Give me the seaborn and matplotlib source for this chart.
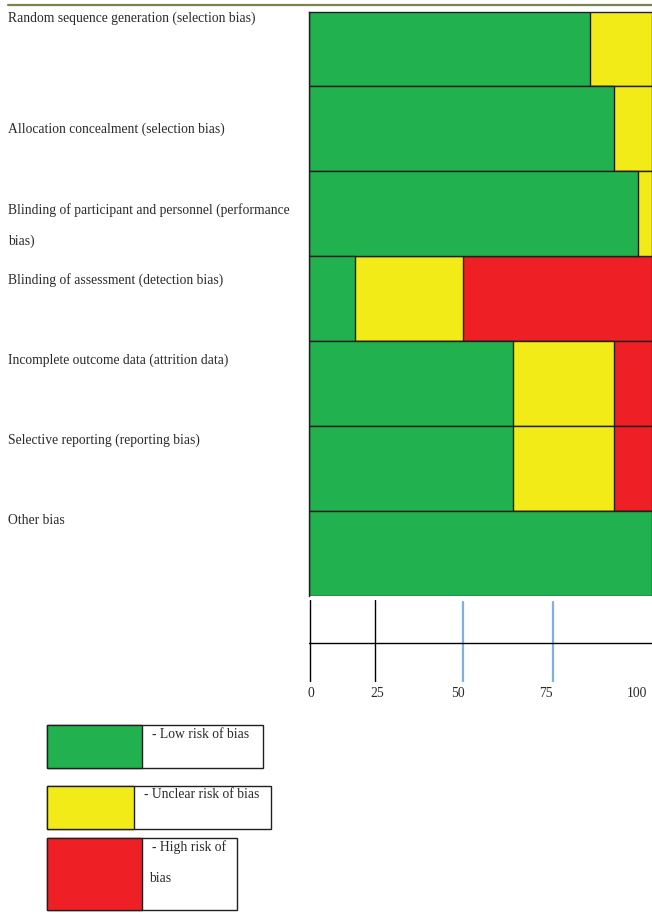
import matplotlib
matplotlib.use("Agg")
import matplotlib.pyplot as plt
from matplotlib.patches import Rectangle
import seaborn as sns
import pandas as pd

sns.set_theme(style="white")
plt.rcParams["font.family"] = ["Liberation Serif", "DejaVu Serif"]

# risk of bias domains and % of studies in each judgement
domains = [
    "Random sequence generation (selection bias)",
    "Allocation concealment (selection bias)",
    "Blinding of participant and personnel (performance bias)",
    "Blinding of assessment (detection bias)",
    "Incomplete outcome data (attrition data)",
    "Selective reporting (reporting bias)",
    "Other bias",
]
low_risk = [82, 89, 96, 13.5, 59.5, 59.5, 100]
unclear_risk = [18, 11, 4, 31.5, 29.5, 29.5, 0]
high_risk = [0, 0, 0, 55, 11, 11, 0]

# row labels as printed (wrapped)
row_labels = [
    ["Random sequence generation (selection bias)"],
    ["Allocation concealment (selection bias)"],
    ["Blinding of participant and personnel (performance", "bias)"],
    ["Blinding of assessment (detection bias)"],
    ["Incomplete outcome data (attrition data)"],
    ["Selective reporting (reporting bias)"],
    ["Other bias"],
]

# scale strip under the bars
scale_labels = ["0", "25", "50", "75", "100"]
scale_label_pos = [0.6, 19.8, 43.4, 69.0, 95.6]
black_dividers = [0.3, 19.2]
blue_dividers = [44.9, 71.1]

legend_labels = [["- Low risk of bias"], ["- Unclear risk of bias"],
                 ["- High risk of", "bias"]]

GREEN = "#21b14f"
YELLOW = "#f2eb17"
RED = "#ee1f25"
EDGE = "#231f20"
TXT = "#2a2a2a"
FS = 9.8

df = pd.DataFrame({"domain": domains, "low": low_risk,
                   "unclear": unclear_risk, "high": high_risk})
df["c_unclear"] = df["low"] + df["unclear"]
df["c_high"] = df["c_unclear"] + df["high"]

W, H = 652, 915
fig = plt.figure(figsize=(W / 100, H / 100), dpi=100)

# main stacked bar panel
ax = fig.add_axes([309 / W, 1 - 596 / H, 343 / W, 584 / H])
for col, color in [("c_high", RED), ("c_unclear", YELLOW), ("low", GREEN)]:
    sns.barplot(data=df, x=col, y="domain", orient="h", color=color,
                width=1.0, edgecolor=EDGE, linewidth=1.0, saturation=1,
                ax=ax, zorder=2)
ax.set_xlim(0, 100)
ax.set_ylim(6.5, -0.5 + 11 / 85)
ax.set_xlabel("")
ax.set_ylabel("")
ax.set_xticks([])
ax.set_yticks([])
for side in ["right", "bottom"]:
    ax.spines[side].set_visible(False)
for side in ["left", "top"]:
    ax.spines[side].set_color(EDGE)
    ax.spines[side].set_linewidth(1.0)

# scale strip
ax2 = fig.add_axes([309 / W, 1 - 682 / H, 343 / W, 82 / H])
ax2.set_xlim(0, 100)
ax2.set_ylim(0, 1)
ax2.axis("off")
for x in black_dividers:
    ax2.axvline(x, 0, 1, color="black", lw=1.0)
for x in blue_dividers:
    ax2.axvline(x, 0, 0.97, color="#7fb0e0", lw=1.6)
ax2.axhline(0.47, color="black", lw=1.0)
for x, lab in zip(scale_label_pos, scale_labels):
    ax2.text(x, -0.06, lab, ha="center", va="top", fontsize=FS, color=TXT)

# overlay in pixel coordinates for labels, rule and legend
ov = fig.add_axes([0, 0, 1, 1], zorder=-1)
ov.set_xlim(0, W)
ov.set_ylim(H, 0)
ov.axis("off")
ov.plot([8, W], [4.5, 4.5], color="#7b8450", lw=1.6)

LINE_GAP = 31
label_y = [18, 129, 210, 280, 360, 440, 520]
for y, lines in zip(label_y, row_labels):
    for i, line in enumerate(lines):
        ov.text(8, y + i * LINE_GAP, line, ha="left", va="center",
                fontsize=FS, color=TXT)

legend_boxes = [(47, 725, 216, 43, 95), (47, 786, 224, 43, 87), (47, 838, 190, 72, 95)]
legend_text_x = [152, 144, 152]
legend_colors = [GREEN, YELLOW, RED]
for (x, y, w, h, pw), tx, c, lines in zip(legend_boxes, legend_text_x,
                                          legend_colors, legend_labels):
    ov.add_patch(Rectangle((x, y), w, h, facecolor="white", edgecolor=EDGE, lw=1.0))
    ov.add_patch(Rectangle((x, y), pw, h, facecolor=c, edgecolor=EDGE, lw=1.0))
    for i, line in enumerate(lines):
        ov.text(tx if i == 0 else tx - 3, y + 9 + i * LINE_GAP, line,
                ha="left", va="center", fontsize=FS, color=TXT)

fig.savefig("out.png", dpi=100)
